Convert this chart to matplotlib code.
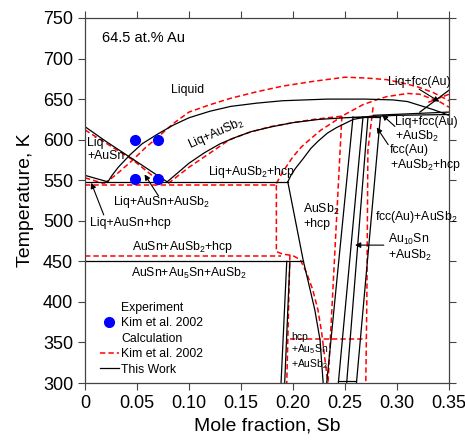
import matplotlib
matplotlib.use('Agg')
import matplotlib.pyplot as plt
from matplotlib.lines import Line2D

plt.rcParams['font.family'] = ['Liberation Sans', 'DejaVu Sans']
plt.rcParams['mathtext.fontset'] = 'custom'
plt.rcParams['mathtext.rm'] = 'Liberation Sans'
plt.rcParams['mathtext.default'] = 'regular'

## This Work (black): (x Sb, T K)
bk_ausn_liq = ([0, 0.02, 0.046, 0.079], [616, 598, 576, 548])
bk_ausb2_liq = ([0.022, 0.026, 0.032, 0.043, 0.055, 0.07, 0.085, 0.10, 0.12, 0.14, 0.165,
                 0.19, 0.233, 0.27, 0.296, 0.31, 0.32, 0.335, 0.35],
                [548, 556, 566, 581, 595, 607, 618, 627, 635, 641, 645,
                 648, 650, 650, 649, 647, 643, 637, 630])
bk_ausb2_sol = ([0.079, 0.09, 0.10, 0.115, 0.13, 0.145, 0.16, 0.18, 0.20, 0.225, 0.25, 0.30, 0.35],
                [548, 560, 571, 584, 595, 603, 610, 616, 621, 625, 627, 630, 631])
bk_fcc_liq = ([0.322, 0.35], [634, 661])
bk_3ph = ([0.277, 0.35], [630, 634])
bk_hcp_top = ([0.195, 0.198, 0.202, 0.21, 0.217, 0.224, 0.233, 0.242, 0.25, 0.258, 0.275],
              [548, 556, 564, 577, 589, 598, 608, 615, 620, 625, 629])
bk_548 = ([0, 0.195], [548, 548])
bk_left = ([0, 0.022], [556, 548])
bk_hcp_left = ([0.195, 0.21], [548, 450])
bk_hcp_solv = ([0.21, 0.215, 0.221, 0.226, 0.229], [450, 423, 390, 353, 300])
bk_450 = ([0, 0.21], [450, 450])
bk_va = ([0.194, 0.1885], [450, 300])
bk_vb = ([0.197, 0.192], [450, 300])
bk_box_top = ([0.2577, 0.284], [628, 628])
bk_v1 = ([0.2577, 0.2324], [628, 300])
bk_v2 = ([0.2673, 0.2436], [628, 300])
bk_v3 = ([0.2721, 0.2516], [628, 300])
bk_v4 = ([0.284, 0.261], [628, 300])
bk_box_bot = ([0.2436, 0.261], [302, 302])

## Kim et al. 2002 (red dashed)
rd_ausn_liq = ([0, 0.046, 0.074], [612, 575, 546])
rd_ausb2_liq = ([0.018, 0.024, 0.03, 0.046, 0.058, 0.07, 0.085, 0.10, 0.12, 0.14, 0.165, 0.19,
                 0.22, 0.25, 0.27, 0.29, 0.305, 0.32, 0.335, 0.35],
                [546, 551, 557, 575, 590, 603, 620, 634, 643, 651, 659, 666,
                 672, 677, 676, 674, 670, 665, 658, 648])
rd_ausb2_sol = ([0.08, 0.10, 0.123, 0.139, 0.158, 0.178, 0.20, 0.22, 0.247, 0.257, 0.267,
                 0.28, 0.29, 0.31, 0.322, 0.332, 0.342, 0.35],
                [546, 566, 586, 600, 609, 616, 621, 625, 629, 636, 643,
                 649, 653, 657, 656, 651, 646, 640])
rd_fcc_liq = ([0.33, 0.35], [646, 656])
rd_544 = ([0, 0.184], [544, 544])
rd_left = ([0, 0.018], [553, 546])
rd_hcp = ([0.184, 0.184, 0.19, 0.2, 0.207, 0.213, 0.219, 0.224, 0.2276, 0.2335],
          [544, 462, 459, 457, 452, 436, 415, 390, 362, 300])
rd_456 = ([0, 0.188], [456, 456])
rd_v_hcp = ([0.197, 0.194], [458, 300])
rd_354 = ([0.197, 0.27], [354, 354])
rd_hcp_top = ([0.184, 0.19, 0.2, 0.208, 0.216, 0.227, 0.238, 0.247],
              [546, 560, 579, 591, 600, 612, 621, 629])
rd_v_left = ([0.247, 0.2337], [629, 300])
rd_v_right = ([0.277, 0.272, 0.271, 0.270], [640, 587, 402, 300])

## Experiment, Kim et al. 2002
exp_x = [0.048, 0.070, 0.048, 0.070]
exp_T = [600, 600, 552, 552]

black = [bk_ausn_liq, bk_ausb2_liq, bk_ausb2_sol, bk_fcc_liq, bk_3ph, bk_hcp_top,
         bk_548, bk_left, bk_hcp_left, bk_hcp_solv, bk_450, bk_va, bk_vb,
         bk_box_top, bk_v1, bk_v2, bk_v3, bk_v4, bk_box_bot]
red = [rd_ausn_liq, rd_ausb2_liq, rd_ausb2_sol, rd_fcc_liq, rd_544, rd_left, rd_hcp,
       rd_456, rd_v_hcp, rd_354, rd_hcp_top, rd_v_left, rd_v_right]

fig = plt.figure(figsize=(4.65, 4.43), dpi=100)
ax = fig.add_axes([0.1828, 0.1354, 0.7828, 0.824])

for xs, ts in red:
    ax.plot(xs, ts, color='red', ls=(0, (3.5, 2)), lw=1.1)
for xs, ts in black:
    ax.plot(xs, ts, color='black', lw=0.9)
ax.plot(exp_x, exp_T, 'o', color='blue', ms=7, ls='none')

fs = 8.8
ax.text(0.016, 725, '64.5 at.% Au', fontsize=10.5, va='center')
ax.text(0.099, 661, 'Liquid', fontsize=fs, ha='center', va='center')
ax.text(0.126, 608, 'Liq+AuSb$_2$', fontsize=fs, ha='center', va='center', rotation=24)
ax.text(0.002, 588, 'Liq\n+AuSn', fontsize=fs, va='center', linespacing=1.1)
ax.text(0.118, 560, 'Liq+AuSb$_2$+hcp', fontsize=fs, va='center')
ax.text(0.027, 523, 'Liq+AuSn+AuSb$_2$', fontsize=fs, va='center')
ax.text(0.005, 497, 'Liq+AuSn+hcp', fontsize=fs, va='center')
ax.text(0.094, 468, 'AuSn+AuSb$_2$+hcp', fontsize=fs, ha='center', va='center')
ax.text(0.100, 435, 'AuSn+Au$_5$Sn+AuSb$_2$', fontsize=fs, ha='center', va='center')
ax.text(0.2096, 506, 'AuSb$_2$\n+hcp', fontsize=fs, va='center', linespacing=1.1)
ax.text(0.279, 505, 'fcc(Au)+AuSb$_2$', fontsize=fs, va='center')
ax.text(0.291, 467, 'Au$_{10}$Sn\n+AuSb$_2$', fontsize=fs, va='center', linespacing=1.1)
ax.text(0.198, 339, 'hcp\n+Au$_5$Sn\n+AuSb$_2$', fontsize=7.5, va='center', linespacing=1.1)
ax.text(0.291, 671, 'Liq+fcc(Au)', fontsize=fs, va='center')
ax.text(0.298, 612, 'Liq+fcc(Au)\n+AuSb$_2$', fontsize=fs, va='center', linespacing=1.1)
ax.text(0.293, 577, 'fcc(Au)\n+AuSb$_2$+hcp', fontsize=fs, va='center', linespacing=1.1)

arw = dict(arrowstyle='-|>', color='black', lw=0.8, mutation_scale=8)
ax.annotate('', xy=(0.343, 645), xytext=(0.319, 664), arrowprops=arw)
ax.annotate('', xy=(0.2837, 633), xytext=(0.300, 614), arrowprops=arw)
ax.annotate('', xy=(0.279, 618), xytext=(0.293, 591), arrowprops=arw)
ax.annotate('', xy=(0.257, 470), xytext=(0.290, 470), arrowprops=arw)
ax.annotate('', xy=(0.0558, 560), xytext=(0.072, 528), arrowprops=arw)
ax.annotate('', xy=(0.005, 550), xytext=(0.019, 504), arrowprops=arw)

handles = [Line2D([], [], ls='none'),
           Line2D([], [], marker='o', color='blue', ms=7, ls='none'),
           Line2D([], [], ls='none'),
           Line2D([], [], color='red', ls=(0, (3.5, 2)), lw=1.1),
           Line2D([], [], color='black', lw=0.9)]
labels = ['Experiment', 'Kim et al. 2002', 'Calculation', 'Kim et al. 2002', 'This Work']
ax.legend(handles, labels, loc='upper left', bbox_to_anchor=(0.04, 0.222), frameon=False,
          fontsize=fs, handlelength=1.6, handletextpad=0.15, labelspacing=0.28,
          borderpad=0, borderaxespad=0)

ax.set_xlim(0, 0.35)
ax.set_ylim(300, 750)
ax.set_xticks([0, 0.05, 0.10, 0.15, 0.20, 0.25, 0.30, 0.35])
ax.set_xticklabels(['0', '0.05', '0.10', '0.15', '0.20', '0.25', '0.30', '0.35'])
ax.set_yticks(range(300, 751, 50))
ax.tick_params(direction='out', length=5, width=0.8, labelsize=13, top=True, right=True,
               color='#444444')
for s in ax.spines.values():
    s.set_color('#444444')
    s.set_linewidth(0.9)
ax.set_xlabel('Mole fraction, Sb', fontsize=14)
ax.set_ylabel('Temperature, K', fontsize=14, labelpad=6)

fig.savefig('out.png', dpi=100)
